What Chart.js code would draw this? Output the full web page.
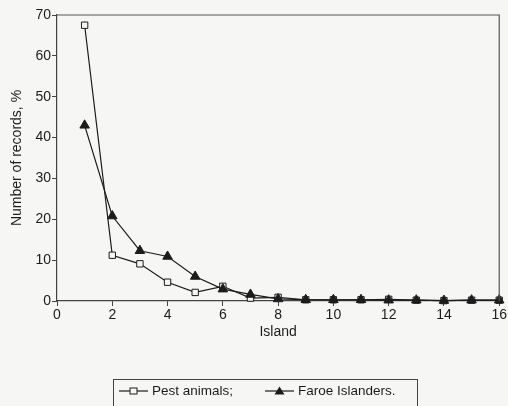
<!DOCTYPE html>
<html>
<head>
<meta charset="utf-8">
<script src="https://cdn.jsdelivr.net/npm/chart.js@4/dist/chart.umd.min.js"></script>
<style>
  html, body { margin: 0; padding: 0; background: #f6f6f5; }
  #wrap { width: 508px; height: 406px; }
</style>
</head>
<body>
<div id="wrap"><canvas id="chart" width="508" height="406"></canvas></div>
<script>
// island rank vs share of records
const islands = [1, 2, 3, 4, 5, 6, 7, 8, 9, 10, 11, 12, 13, 14, 15, 16];
const pestAnimals = [67.5, 11.2, 9.1, 4.6, 2.1, 3.6, 0.7, 0.9, 0.3, 0.3, 0.3, 0.4, 0.2, 0.1, 0.2, 0.2];
const faroeIslanders = [43.0, 20.8, 12.3, 10.9, 6.0, 2.9, 1.6, 0.5, 0.3, 0.3, 0.3, 0.2, 0.2, 0.1, 0.2, 0.2];
const seriesLabels = ['Pest animals;', 'Faroe Islanders.'];
const xTicks = [0, 2, 4, 6, 8, 10, 12, 14, 16];
const yTicks = [0, 10, 20, 30, 40, 50, 60, 70];

const ink = '#1c1c1c';
const paper = '#f6f6f5';
const font = 'Liberation Sans, Arial, sans-serif';

const toPoints = (ys) => islands.map((x, i) => ({x: x, y: ys[i]}));

// box round the plot plus a hand-drawn legend below it
const framePlugin = {
    id: 'frame',
    beforeDraw(chart) {
        const ctx = chart.ctx;
        ctx.save();
        ctx.fillStyle = paper;
        ctx.fillRect(0, 0, chart.width, chart.height);
        ctx.restore();
    },
    afterDraw(chart) {
        const ctx = chart.ctx;
        const a = chart.chartArea;
        ctx.save();
        ctx.strokeStyle = '#555';
        ctx.lineWidth = 1.2;
        ctx.beginPath();
        ctx.moveTo(a.left, a.top);
        ctx.lineTo(a.right, a.top);
        ctx.lineTo(a.right, a.bottom);
        ctx.stroke();

        // legend box
        ctx.strokeStyle = '#444';
        ctx.lineWidth = 1;
        ctx.strokeRect(113.5, 379.5, 304, 40);

        ctx.font = '13.5px ' + font;
        ctx.textBaseline = 'middle';
        const ly = 391;
        const items = [
            {x: 119, ds: chart.data.datasets[0]},
            {x: 265, ds: chart.data.datasets[1]}
        ];
        items.forEach((it) => {
            ctx.strokeStyle = ink;
            ctx.lineWidth = 1.2;
            ctx.beginPath();
            ctx.moveTo(it.x, ly);
            ctx.lineTo(it.x + 29, ly);
            ctx.stroke();
            const cx = it.x + 14.5;
            if (it.ds.pointStyle === 'rect') {
                ctx.fillStyle = paper;
                ctx.fillRect(cx - 3.5, ly - 3, 7, 6);
                ctx.lineWidth = 1;
                ctx.strokeRect(cx - 3.5, ly - 3, 7, 6);
            } else {
                ctx.fillStyle = ink;
                ctx.beginPath();
                ctx.moveTo(cx, ly - 4.5);
                ctx.lineTo(cx + 5, ly + 3.5);
                ctx.lineTo(cx - 5, ly + 3.5);
                ctx.closePath();
                ctx.fill();
            }
            ctx.fillStyle = ink;
            ctx.fillText(it.ds.label, it.x + 33, ly + 0.5);
        });
        ctx.restore();
    }
};

const ctx = document.getElementById('chart').getContext('2d');
new Chart(ctx, {
    type: 'line',
    data: {
        datasets: [
            {
                label: seriesLabels[0],
                data: toPoints(pestAnimals),
                borderColor: ink,
                borderWidth: 1.2,
                pointStyle: 'rect',
                pointRadius: 4.5,
                pointBackgroundColor: paper,
                pointBorderColor: ink,
                pointBorderWidth: 1,
                tension: 0,
                clip: false,
                order: 2
            },
            {
                label: seriesLabels[1],
                data: toPoints(faroeIslanders),
                borderColor: ink,
                borderWidth: 1.2,
                pointStyle: 'triangle',
                pointRadius: 5.5,
                pointBackgroundColor: ink,
                pointBorderColor: ink,
                pointBorderWidth: 1,
                tension: 0,
                clip: false,
                order: 1
            }
        ]
    },
    options: {
        responsive: false,
        animation: false,
        layout: {padding: {top: 15, right: 8, bottom: 65, left: 0}},
        plugins: {
            legend: {display: false},
            tooltip: {enabled: false}
        },
        scales: {
            x: {
                type: 'linear',
                min: 0,
                max: 16,
                afterBuildTicks: (scale) => { scale.ticks = xTicks.map((v) => ({value: v})); },
                afterFit: (scale) => { scale.height = 40; },
                grid: {drawOnChartArea: false, drawTicks: true, tickLength: 5, color: '#444', lineWidth: 1},
                border: {color: '#444', width: 1.2},
                ticks: {color: ink, font: {family: font, size: 14}, padding: 1, maxRotation: 0},
                title: {display: true, text: 'Island', color: ink, font: {family: font, size: 14}, padding: {top: 2, bottom: 0}}
            },
            y: {
                min: 0,
                max: 70,
                afterBuildTicks: (scale) => { scale.ticks = yTicks.map((v) => ({value: v})); },
                afterFit: (scale) => { scale.width = 57; },
                grid: {drawOnChartArea: false, drawTicks: true, tickLength: 5, color: '#444', lineWidth: 1},
                border: {color: '#444', width: 1.2},
                ticks: {color: ink, font: {family: font, size: 14}, padding: 1},
                title: {display: true, text: 'Number of records, %', color: ink, font: {family: font, size: 14}, padding: {top: 9, bottom: 2}}
            }
        }
    },
    plugins: [framePlugin]
});
</script>
</body>
</html>
